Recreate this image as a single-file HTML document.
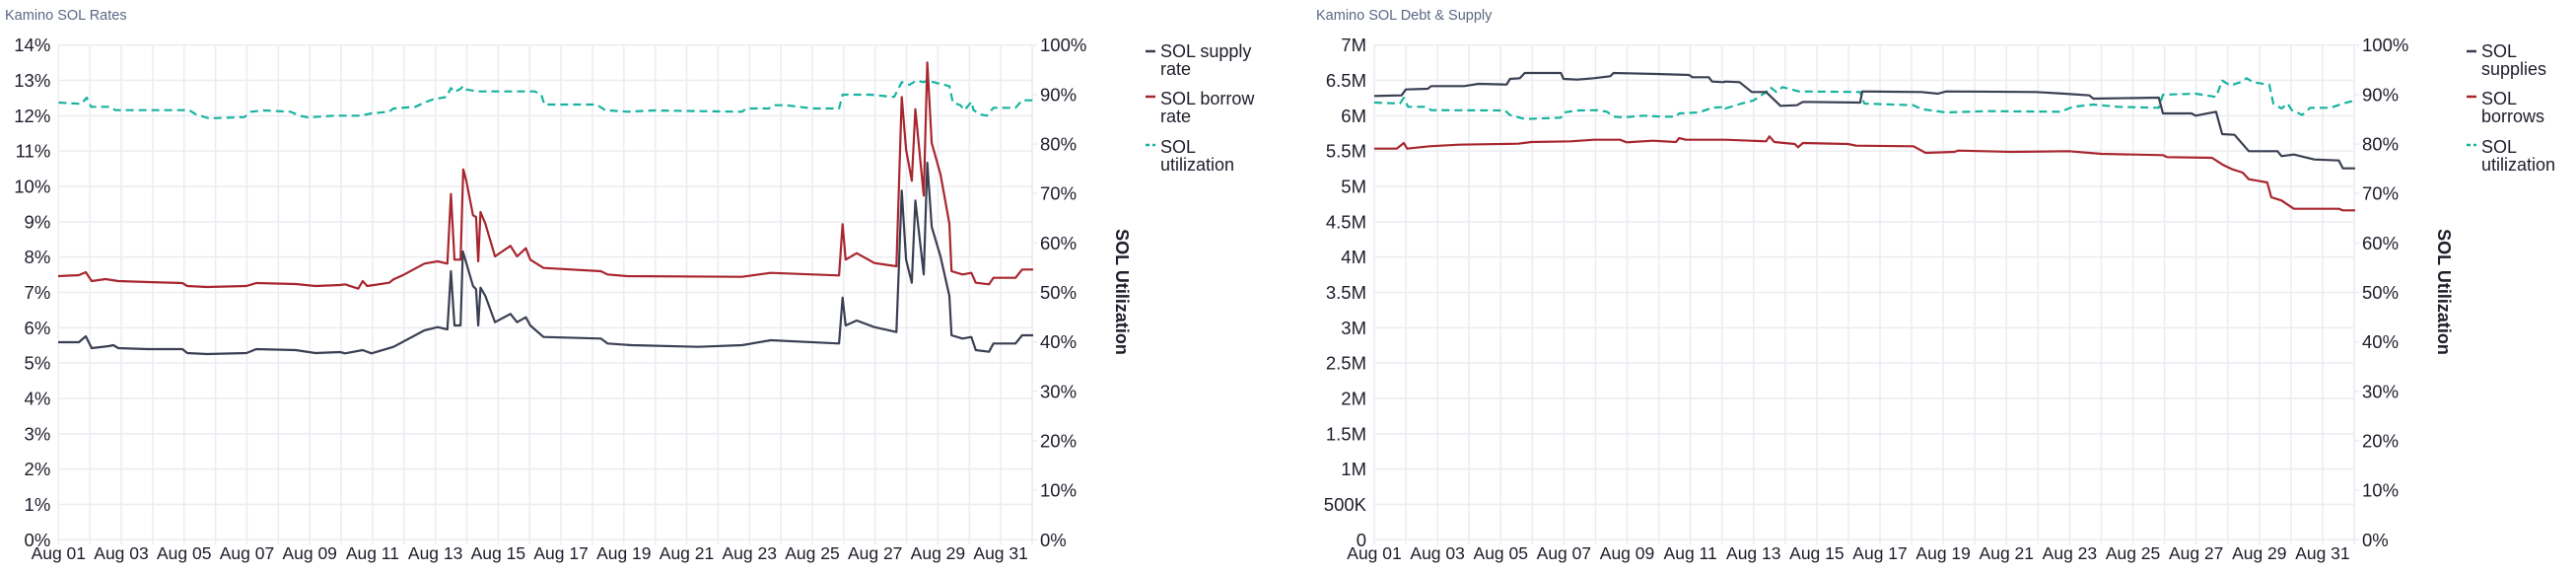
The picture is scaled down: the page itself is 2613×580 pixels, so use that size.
<!DOCTYPE html>
<html><head><meta charset="utf-8"><style>
html,body{margin:0;padding:0;background:#fff;width:2613px;height:580px;overflow:hidden}
svg{display:block}
text{font-family:"Liberation Sans",sans-serif;fill:#1d1d2b}
</style></head><body>
<svg id="s" width="2613" height="580" xmlns="http://www.w3.org/2000/svg">
<text x="5" y="20" style="font-size:14.5px;fill:#5b6783">Kamino SOL Rates</text>
<text x="1335" y="20" style="font-size:14.5px;fill:#5b6783">Kamino SOL Debt &amp; Supply</text>
<g id="g"></g>
</svg>
<script>
var NS="http://www.w3.org/2000/svg",g=document.getElementById('g');
function el(t,a,txt){var e=document.createElementNS(NS,t);for(var k in a)e.setAttribute(k,a[k]);if(txt!=null)e.textContent=txt;g.appendChild(e);return e;}
var T=45.7,B=547.3,grid="#ececf2";
function chart(L,R,leftLabels,legend,legX,titleX){
  var i,y;
  for(i=0;i<leftLabels.length;i++){y=B-i*(B-T)/(leftLabels.length-1);
    el('line',{x1:L,x2:R,y1:y,y2:y,stroke:grid,'stroke-width':1.5});
    el('text',{x:L-8,y:y+6.5,'text-anchor':'end','font-size':'18.5px'},leftLabels[i]);}
  var dw=(R-L)/31;
  for(i=0;i<=31;i++){var x=L+i*dw;el('line',{x1:x,x2:x,y1:T,y2:B+5,stroke:grid,'stroke-width':1.5});
    if(i%2==0&&i<31){el('text',{x:x,y:567,'text-anchor':'middle','font-size':'17.5px'},'Aug '+(i+1<10?'0':'')+(i+1));}}
  for(i=0;i<=10;i++){y=B-i*(B-T)/10;el('line',{x1:R,x2:R+5,y1:y,y2:y,stroke:grid,'stroke-width':1.5});
    el('text',{x:R+8,y:y+6.5,'font-size':'18.5px'},(i*10)+'%');}
  el('line',{x1:R,x2:R,y1:T,y2:B,stroke:grid,'stroke-width':1.5});
  var t=el('text',{x:0,y:0,'font-size':'18px','font-weight':'bold','text-anchor':'middle',transform:'translate('+titleX+',296) rotate(90)'},'SOL Utilization');
  var cols=['#3a3f52','#a8262e','#17b3a0'],ys=[[58,76],[106,124],[155,173]],my=[52,98,147];
  for(i=0;i<3;i++){
    el('line',{x1:legX,x2:legX+10,y1:my[i],y2:my[i],stroke:cols[i],'stroke-width':2.5,'stroke-dasharray':i==2?'4,3':''});
    el('text',{x:legX+15,y:ys[i][0],'font-size':'18px'},legend[i][0]);
    el('text',{x:legX+15,y:ys[i][1],'font-size':'18px'},legend[i][1]);}
}
function poly(parts,color,dash){
  var pts=[];
  parts.forEach(function(p){var ox=p[0],oy=p[1],fx=p[2],fy=p[3];p[4].forEach(function(q){pts.push((ox+q[0]/fx).toFixed(1)+','+(oy+q[1]/fy).toFixed(1));});});
  var a={points:pts.join(' '),fill:'none',stroke:color,'stroke-width':2.2,'stroke-linejoin':'round'};
  if(dash)a['stroke-dasharray']='8,5';
  el('polyline',a);
}
var pl=[];for(var i=0;i<=14;i++)pl.push(i+'%');
chart(59.3,1047,pl,[['SOL supply','rate'],['SOL borrow','rate'],['SOL','utilization']],1162,1132);
var ml=['0','500K','1M','1.5M','2M','2.5M','3M','3.5M','4M','4.5M','5M','5.5M','6M','6.5M','7M'];
chart(1394,2388,ml,[['SOL','supplies'],['SOL','borrows'],['SOL','utilization']],2502,2473);

// chart1 utilization
poly([[0,0,2.24,3,[[133,312],[185,316],[197,297],[207,325],[250,325],[262,335],[430,335],[445,348],[475,360],[555,356],[570,340],[600,336],[660,340],[680,352],[700,357],[760,352]]],
 [350,30,2.235,3,[[0,262],[35,262],[60,255],[100,250],[110,240],[160,235],[180,222],[200,212],[230,205],[240,178],[248,190],[262,180],[268,172],[275,182],[300,188],[430,188],[445,198],[452,228],[570,228],[590,245],[640,250],[700,246],[900,250],[910,240],[960,240],[975,230],[1000,230],[1060,240],[1120,240],[1128,198],[1190,198],[1245,205],[1262,160],[1280,168],[1295,155],[1312,160],[1320,155],[1370,172],[1378,222],[1395,230],[1405,245],[1420,220],[1425,245],[1440,258],[1455,262],[1470,238],[1520,238],[1535,215],[1560,215]]]],'#17b3a0',true);
// chart1 borrow
poly([[0,0,1,1,[[59,280],[80,279],[87,276],[93,285],[107,283],[120,285],[150,286],[185,287],[190,290],[210,291],[250,290],[260,287],[300,288],[320,290],[345,289]]],
 [350,30,2.235,3,[[0,775],[30,788],[40,765],[50,780],[100,770],[110,760],[130,748],[180,712],[210,705],[232,712],[240,500],[248,700],[262,700],[268,425],[275,460],[290,565],[297,570],[302,705],[307,555],[318,590],[340,690],[375,658],[390,690],[410,665],[420,700],[450,725],[580,735],[595,745],[640,750],[900,752],[965,740],[1120,748],[1128,592],[1135,700],[1160,680],[1200,710],[1250,720],[1262,205],[1272,365],[1285,460],[1293,242],[1312,505],[1320,100],[1330,345],[1350,440],[1370,590],[1375,735],[1400,745],[1420,740],[1430,770],[1460,775],[1470,755],[1520,755],[1535,730],[1560,730]]]],'#a8262e');
// chart1 supply
poly([[0,0,1,1,[[59,347],[80,347],[87,341],[93,353],[110,351],[115,350],[120,353],[150,354],[185,354],[190,358],[210,359],[250,358],[260,354],[300,355],[320,358],[345,357]]],
 [350,30,2.235,3,[[0,985],[40,975],[60,985],[110,965],[180,915],[210,905],[232,912],[240,735],[248,900],[262,900],[267,675],[275,710],[290,780],[297,790],[302,900],[307,785],[318,810],[340,890],[375,865],[390,890],[410,875],[420,900],[450,935],[580,940],[595,955],[650,960],[800,965],[900,960],[965,945],[1120,955],[1128,815],[1135,900],[1160,885],[1200,905],[1250,920],[1262,490],[1272,700],[1285,770],[1293,520],[1312,745],[1320,405],[1330,600],[1350,690],[1370,810],[1375,930],[1400,940],[1420,935],[1430,975],[1460,980],[1470,955],[1520,955],[1535,930],[1560,930]]]],'#3a3f52');
// chart2 utilization
poly([[1300,0,3,3,[[282,312],[360,315],[372,298],[385,325],[440,325],[455,335],[680,336],[695,350],[740,362],[850,358],[860,342],[900,336],[960,335],[990,340],[1010,355],[1040,357],[1100,352],[1160,355],[1200,355],[1210,345],[1270,342],[1310,328],[1350,325]]],
 [1750,30,2.41,3,[[0,240],[40,225],[70,215],[100,190],[110,175],[125,190],[140,175],[180,188],[330,190],[340,225],[460,230],[480,242],[540,252],[640,248],[820,250],[850,235],[900,228],[960,235],[1060,238],[1070,198],[1150,195],[1200,205],[1215,155],[1235,170],[1260,160],[1275,148],[1290,160],[1330,168],[1340,225],[1360,240],[1375,225],[1385,245],[1395,250],[1410,260],[1430,238],[1480,238],[1510,225],[1540,215]]]],'#17b3a0',true);
// chart2 borrows
poly([[1300,0,3,3,[[282,452],[350,452],[372,435],[382,452],[450,445],[540,440],[720,437],[760,432],[880,430],[950,425],[1030,425],[1050,433],[1130,428],[1200,432],[1210,420],[1230,425],[1340,425]]],
 [1750,30,2.41,3,[[0,335],[100,340],[108,325],[120,342],[170,348],[178,358],[190,345],[300,348],[320,353],[460,355],[490,375],[560,372],[570,368],[700,372],[840,370],[920,378],[1070,382],[1080,388],[1190,390],[1215,410],[1240,425],[1265,435],[1280,455],[1325,465],[1335,510],[1360,520],[1390,545],[1500,545],[1510,550],[1540,550]]]],'#a8262e');
// chart2 supplies
poly([[1300,0,3,3,[[282,292],[365,290],[378,272],[445,270],[455,262],[555,262],[600,255],[685,257],[695,240],[725,238],[740,222],[850,222],[858,240],[900,242],[950,238],[1000,232],[1010,222],[1140,225],[1240,228],[1250,235],[1300,235],[1310,248],[1345,250]]],
 [1750,30,2.41,3,[[0,158],[35,160],[65,190],[100,190],[135,232],[175,230],[190,220],[330,222],[335,188],[480,190],[520,195],[540,188],[760,190],[830,195],[890,200],[900,210],[1060,207],[1070,255],[1140,255],[1150,262],[1200,250],[1215,318],[1245,320],[1280,370],[1350,370],[1360,385],[1390,380],[1440,395],[1500,398],[1510,422],[1540,422]]]],'#3a3f52');
</script>
</body></html>
